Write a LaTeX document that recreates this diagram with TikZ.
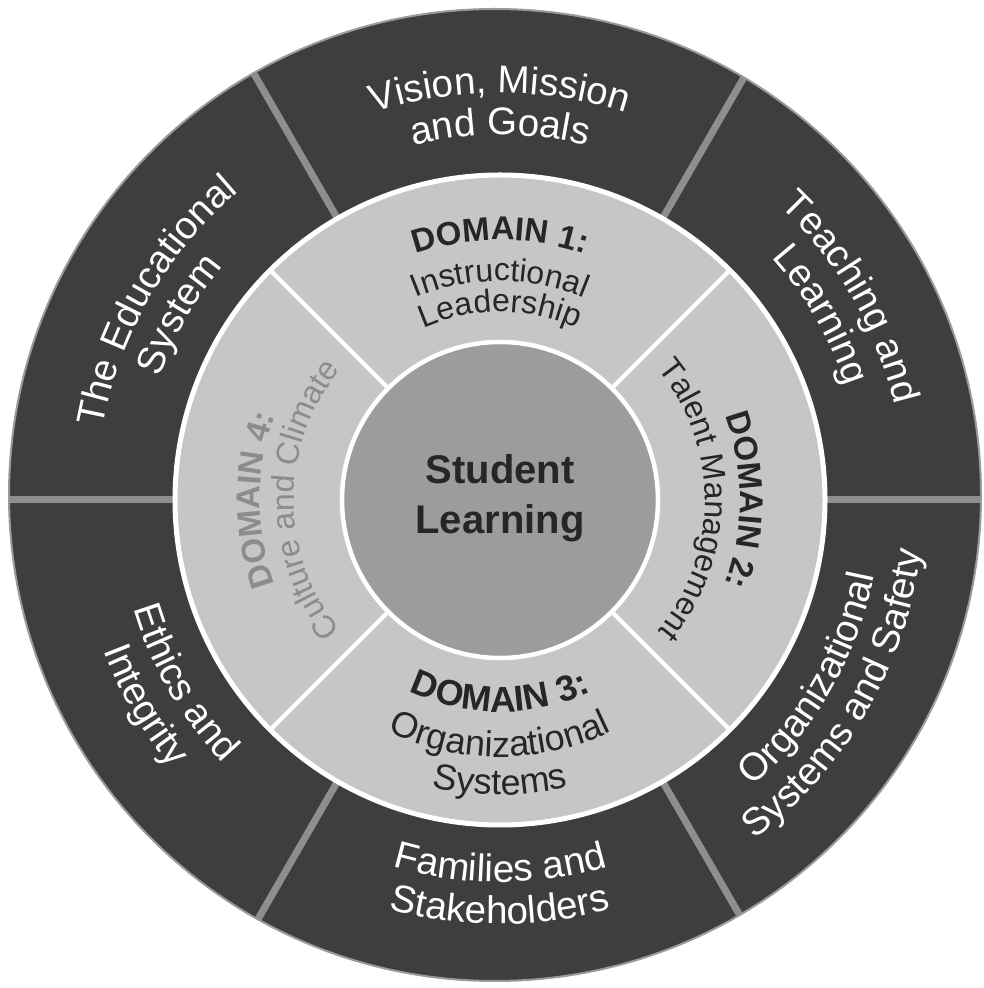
\documentclass[tikz,border=0pt]{standalone}
\usepackage{fontspec}
\setmainfont{Liberation Sans}
\usetikzlibrary{decorations.text}
\definecolor{ringdark}{HTML}{3E3E3E}
\definecolor{ringmid}{HTML}{C6C6C6}
\definecolor{corefill}{HTML}{9C9C9C}
\definecolor{divgray}{HTML}{8E8E8E}
\definecolor{edgegray}{HTML}{9A9A9A}
\definecolor{txtdark}{HTML}{262626}
\definecolor{txtfaint}{HTML}{8C8C8C}
\newcommand{\outerfont}{\fontsize{38.5}{44}\selectfont\color{white}}
\newcommand{\domfont}{\fontsize{32}{38}\selectfont\color{txtdark}}
\newcommand{\domboldfont}{\fontsize{33}{38}\selectfont\bfseries\color{txtdark}}
\newcommand{\domlarge}{\fontsize{36}{42}\selectfont\color{txtdark}}
\newcommand{\domlargebold}{\fontsize{36}{42}\selectfont\bfseries\color{txtdark}}
\newcommand{\domfaint}{\fontsize{32}{38}\selectfont\color{txtfaint}}
\newcommand{\domfaintbold}{\fontsize{33}{38}\selectfont\bfseries\color{txtfaint}}
% clockwise text, letter tops pointing outward: angle, radius, format, text
\newcommand{\cwtext}[4]{%
  \path[decorate,decoration={text along path,text align=center,text={|#3|#4}}]
    (C) ++(#1+85:#2pt) arc[start angle=#1+85,end angle=#1-85,radius=#2pt];}
% counter-clockwise text, letter tops pointing inward
\newcommand{\ccwtext}[4]{%
  \path[decorate,decoration={text along path,text align=center,text={|#3|#4}}]
    (C) ++(#1-85:#2pt) arc[start angle=#1-85,end angle=#1+85,radius=#2pt];}
\tikzset{
  outerdiv/.style={draw=divgray,line width=7pt},
  innerdiv/.style={draw=white,line width=4pt},
}
\begin{document}
\begin{tikzpicture}[x=1pt,y=1pt]
\useasboundingbox (0,0) rectangle (984,988);
\fill[white] (0,0) rectangle (984,988);
\coordinate (O) at (495,493);
\coordinate (C) at (500,488);
% outer ring
\fill[ringdark] (O) circle[radius=486pt];
\begin{scope}
  \clip (O) circle[radius=485pt];
  \foreach \a in {0,60,...,300}
    \draw[outerdiv] (C) ++(\a:320pt) -- ++(\a:200pt);
\end{scope}
\draw[edgegray,line width=2pt] (O) circle[radius=486pt];
% middle ring
\fill[ringmid] (C) circle[radius=325pt];
\draw[white,line width=5pt] (C) circle[radius=325pt];
\foreach \a in {45,135,225,315}
  \draw[innerdiv] (C) ++(\a:158pt) -- ++(\a:167pt);
% core
\fill[corefill] (C) circle[radius=158pt];
\draw[white,line width=4.5pt] (C) circle[radius=158pt];
\node[font=\fontsize{40}{50}\selectfont\bfseries,text=txtdark,align=center] (core) at ([yshift=2pt]C) {Student\\Learning};
% outer labels
\cwtext{90}{407}{\outerfont}{Vision, Mission}
\cwtext{90}{365}{\outerfont}{and Goals}
\cwtext{30}{406}{\outerfont}{Teaching and}
\cwtext{30}{364}{\outerfont}{Learning}
\cwtext{150}{404}{\outerfont}{The Educational}
\cwtext{150}{362}{\outerfont}{System}
\ccwtext{270}{382}{\outerfont}{Families and}
\ccwtext{270}{424}{\outerfont}{Stakeholders}
\ccwtext{330}{382}{\outerfont}{Organizational}
\ccwtext{330}{424}{\outerfont}{Systems and Safety}
\ccwtext{210}{382}{\outerfont}{Ethics and}
\ccwtext{210}{424}{\outerfont}{Integrity}
% domain labels
\cwtext{90}{260}{\domboldfont}{DOMAIN 1:}
\cwtext{90}{219}{\domfont}{Instructional}
\cwtext{90}{188}{\domfont}{Leadership}
\cwtext{0}{240}{\domboldfont}{DOMAIN 2:}
\cwtext{0}{205}{\domfont}{Talent Management}
\ccwtext{270}{212}{\domlargebold}{DOMAIN 3:}
\ccwtext{270}{257}{\domlarge}{Organizational}
\ccwtext{270}{295}{\domlarge}{Systems}
\cwtext{180}{240}{\domfaintbold}{DOMAIN 4:}
\cwtext{180}{206}{\domfaint}{Culture and Climate}
\end{tikzpicture}
\end{document}
